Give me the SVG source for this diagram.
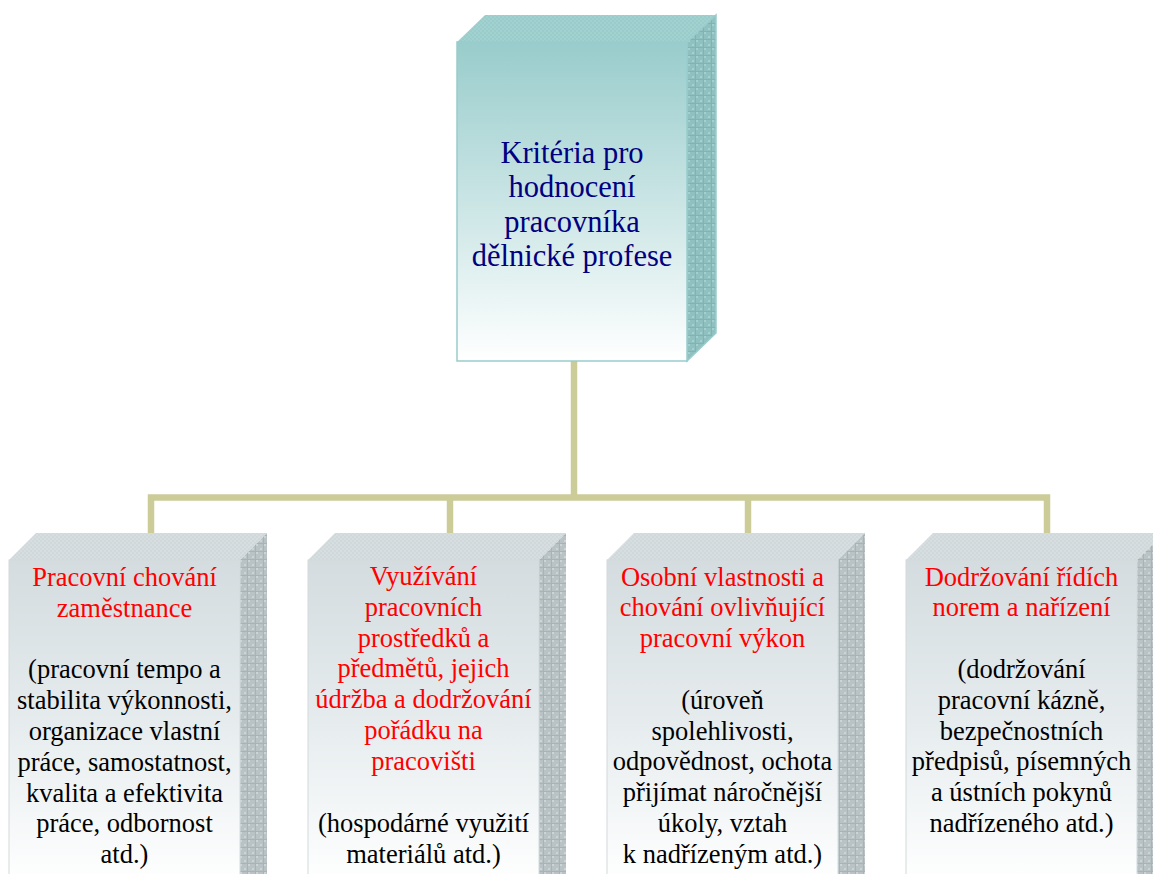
<svg xmlns="http://www.w3.org/2000/svg" width="1153" height="874" viewBox="0 0 1153 874">
  <defs>
    <!-- front face gradients -->
    <linearGradient id="tealFront" x1="0" y1="0" x2="0" y2="1">
      <stop offset="0" stop-color="#99cccc"/>
      <stop offset="0.55" stop-color="#cfe7e7"/>
      <stop offset="1" stop-color="#ffffff"/>
    </linearGradient>
    <linearGradient id="greyFront" x1="0" y1="560" x2="0" y2="885" gradientUnits="userSpaceOnUse">
      <stop offset="0" stop-color="#d4dcdf"/>
      <stop offset="0.5" stop-color="#e6ecee"/>
      <stop offset="1" stop-color="#ffffff"/>
    </linearGradient>
    <!-- textured faces -->
    <pattern id="tealTop" width="4" height="4" patternUnits="userSpaceOnUse">
      <rect width="4" height="4" fill="#a2d1d1"/>
      <rect width="2" height="2" fill="#9accca"/>
      <rect x="2" y="2" width="2" height="2" fill="#9accca"/>
    </pattern>
    <pattern id="tealSide" width="8" height="8" patternUnits="userSpaceOnUse">
      <rect width="8" height="8" fill="#8fc1c1"/>
      <rect width="2" height="2" fill="#a6d0d0"/>
      <rect x="4" y="4" width="2" height="2" fill="#a6d0d0"/>
      <path d="M0,7.5 H8 M7.5,0 V8" stroke="#7fb4b4" stroke-width="1"/>
    </pattern>
    <pattern id="greyTop" width="4" height="4" patternUnits="userSpaceOnUse">
      <rect width="4" height="4" fill="#d6dee0"/>
      <rect width="2" height="2" fill="#d0d8db"/>
      <rect x="2" y="2" width="2" height="2" fill="#d0d8db"/>
    </pattern>
    <pattern id="greySide" width="8" height="8" patternUnits="userSpaceOnUse">
      <rect width="8" height="8" fill="#b9c2c4"/>
      <rect width="2" height="2" fill="#ccd4d6"/>
      <rect x="4" y="4" width="2" height="2" fill="#ccd4d6"/>
      <path d="M0,7.5 H8 M7.5,0 V8" stroke="#a9b3b5" stroke-width="1"/>
    </pattern>
    <style>
      .t { text-anchor: middle; }
      .title { font-size: 30.5px; fill: #000080; }
      .head { font-size: 26.5px; fill: #ff0000; }
      .body { font-size: 26.5px; fill: #000000; }
      .link { fill: none; stroke: #cccc99; stroke-width: 6.5; stroke-linejoin: miter; }
      .gFront { fill: url(#greyFront); stroke: #d2dadc; stroke-width: 1; }
      .gTop { fill: url(#greyTop); }
      .gSide { fill: url(#greySide); }
    </style>
  </defs>

  <rect width="1153" height="874" fill="#ffffff"/>

  <!-- tree connectors -->
  <g id="connectors">
    <path class="link" d="M574,361 V497.5"/>
    <path class="link" d="M151,533 V497.5 H1047 V533"/>
    <path class="link" d="M450,497.5 V533"/>
    <path class="link" d="M748,497.5 V533"/>
  </g>

  <g font-family="Liberation Serif, Times New Roman, Tinos, DejaVu Serif, Noto Serif, serif">
  <!-- root block -->
  <g id="root">
    <polygon points="457,42 485,15 716,15 687,42" fill="url(#tealTop)"/>
    <polygon points="687,42 716,15 716,333 687,361" fill="url(#tealSide)" stroke="#99cccc" stroke-width="1.5"/>
    <rect x="457" y="42" width="230" height="319" fill="url(#tealFront)" stroke="#99cccc" stroke-width="1.5"/>
    <g class="t title">
      <text x="572" y="163">Kritéria pro</text>
      <text x="572" y="197.4">hodnocení</text>
      <text x="572" y="231.8">pracovníka</text>
      <text x="572" y="266.2">dělnické profese</text>
    </g>
  </g>

  <!-- criterion 1 -->
  <g id="c1">
    <polygon class="gTop" points="9,560 36,533 267,533 240,560"/>
    <polygon class="gSide" points="240,560 267,533 267,900 240,900"/>
    <rect class="gFront" x="9" y="560" width="231" height="340"/>
    <g class="t head">
      <text x="124.5" y="586">Pracovní chování</text>
      <text x="124.5" y="616.8">zaměstnance</text>
    </g>
    <g class="t body">
      <text x="124.5" y="678.4">(pracovní tempo a</text>
      <text x="124.5" y="709.2">stabilita výkonnosti,</text>
      <text x="124.5" y="740">organizace vlastní</text>
      <text x="124.5" y="770.8">práce, samostatnost,</text>
      <text x="124.5" y="801.6">kvalita a efektivita</text>
      <text x="124.5" y="832.4">práce, odbornost</text>
      <text x="124.5" y="863.2">atd.)</text>
    </g>
  </g>

  <!-- criterion 2 -->
  <g id="c2">
    <polygon class="gTop" points="308,560 335,533 566,533 539,560"/>
    <polygon class="gSide" points="539,560 566,533 566,900 539,900"/>
    <rect class="gFront" x="308" y="560" width="231" height="340"/>
    <g class="t head">
      <text x="423.5" y="585">Využívání</text>
      <text x="423.5" y="615.8">pracovních</text>
      <text x="423.5" y="646.6">prostředků a</text>
      <text x="423.5" y="677.4">předmětů, jejich</text>
      <text x="423.5" y="708.2">údržba a dodržování</text>
      <text x="423.5" y="739">pořádku na</text>
      <text x="423.5" y="769.8">pracovišti</text>
    </g>
    <g class="t body">
      <text x="423.5" y="832.4">(hospodárné využití</text>
      <text x="423.5" y="863.2">materiálů atd.)</text>
    </g>
  </g>

  <!-- criterion 3 -->
  <g id="c3">
    <polygon class="gTop" points="607,560 634,533 865,533 838,560"/>
    <polygon class="gSide" points="838,560 865,533 865,900 838,900"/>
    <rect class="gFront" x="607" y="560" width="231" height="340"/>
    <g class="t head">
      <text x="722.5" y="585.5">Osobní vlastnosti a</text>
      <text x="722.5" y="616.3">chování ovlivňující</text>
      <text x="722.5" y="647.1">pracovní výkon</text>
    </g>
    <g class="t body">
      <text x="722.5" y="708.7">(úroveň</text>
      <text x="722.5" y="739.5">spolehlivosti,</text>
      <text x="722.5" y="770.3">odpovědnost, ochota</text>
      <text x="722.5" y="801.1">přijímat náročnější</text>
      <text x="722.5" y="831.9">úkoly, vztah</text>
      <text x="722.5" y="862.7">k nadřízeným atd.)</text>
    </g>
  </g>

  <!-- criterion 4 -->
  <g id="c4">
    <polygon class="gTop" points="906,560 933,533 1164,533 1137,560"/>
    <polygon class="gSide" points="1137,560 1164,533 1164,900 1137,900"/>
    <rect class="gFront" x="906" y="560" width="231" height="340"/>
    <g class="t head">
      <text x="1021.5" y="585.5">Dodržování řídích</text>
      <text x="1021.5" y="616.3">norem a nařízení</text>
    </g>
    <g class="t body">
      <text x="1021.5" y="677.9">(dodržování</text>
      <text x="1021.5" y="708.7">pracovní kázně,</text>
      <text x="1021.5" y="739.5">bezpečnostních</text>
      <text x="1021.5" y="770.3">předpisů, písemných</text>
      <text x="1021.5" y="801.1">a ústních pokynů</text>
      <text x="1021.5" y="831.9">nadřízeného atd.)</text>
    </g>
  </g>
  </g>
</svg>
